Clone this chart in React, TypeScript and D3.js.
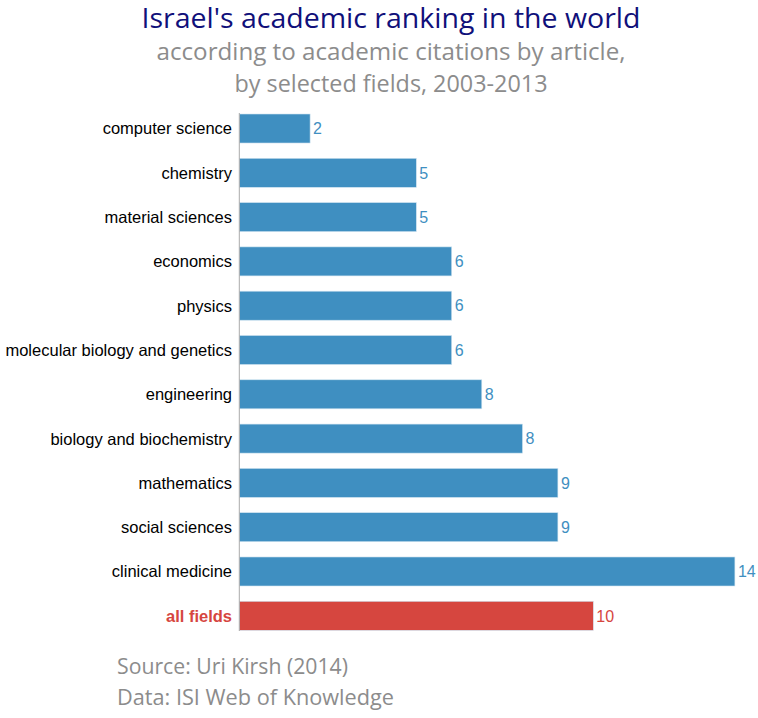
import React from "react";
import * as d3 from "d3";

const categories = [
  "computer science",
  "chemistry",
  "material sciences",
  "economics",
  "physics",
  "molecular biology and genetics",
  "engineering",
  "biology and biochemistry",
  "mathematics",
  "social sciences",
  "clinical medicine",
  "all fields",
];
// bar lengths as drawn in the reference
const barValues = [2, 5, 5, 6, 6, 6, 6.85, 8, 9, 9, 14, 10];
// printed rank labels
const rankLabels = ["2", "5", "5", "6", "6", "6", "8", "8", "9", "9", "14", "10"];
const highlight = ["all fields"];

const titleText = "Israel's academic ranking in the world";
const subtitleLines = [
  "according to academic citations by article,",
  "by selected fields, 2003-2013",
];
const footerLines = ["Source: Uri Kirsh (2014)", "Data: ISI Web of Knowledge"];

const W = 758;
const H = 718;
const BLUE = "#3f8fc1";
const RED = "#d6463f";

export default function App() {
  const x0 = 239.3;
  const x = d3.scaleLinear().domain([0, 14]).range([x0, x0 + 14 * 35.4]);
  const y = d3
    .scaleBand<string>()
    .domain(categories)
    .range([114, 630.3])
    .paddingInner(0.345)
    .paddingOuter(0);
  const bh = y.bandwidth();

  const sans = "'Liberation Sans', Arial, sans-serif";
  const humanist = "'Open Sans', Lato, sans-serif";

  return (
    <svg
      width={W}
      height={H}
      style={{ position: "absolute", left: 0, top: 0, background: "#fff" }}
    >
      <text
        x={391}
        y={28}
        textAnchor="middle"
        fontFamily={humanist}
        fontSize={26.5}
        fill="#10107a"
        textLength={499}
        lengthAdjust="spacingAndGlyphs"
      >
        {titleText}
      </text>
      {subtitleLines.map((t, i) => (
        <text
          key={t}
          x={391}
          y={60 + i * 31.5}
          textAnchor="middle"
          fontFamily={humanist}
          fontSize={23}
          fill="#8c8c8c"
          textLength={i === 0 ? 469 : 313}
          lengthAdjust="spacingAndGlyphs"
        >
          {t}
        </text>
      ))}
      {categories.map((c, i) => {
        const isHi = highlight.includes(c);
        const top = y(c) as number;
        const color = isHi ? RED : BLUE;
        return (
          <g key={c}>
            <rect
              x={x(0)}
              y={top}
              width={x(barValues[i]) - x(0)}
              height={bh}
              fill={color}
              stroke="#cfe3f0"
              strokeWidth={0.6}
            />
            <text
              x={232}
              y={top + bh / 2}
              dy="0.36em"
              textAnchor="end"
              fontFamily={sans}
              fontSize={16.5}
              fontWeight={isHi ? "bold" : "normal"}
              fill={isHi ? RED : "#000"}
            >
              {c}
            </text>
            <text
              x={x(barValues[i]) + 3}
              y={top + bh / 2}
              dy="0.36em"
              fontFamily={sans}
              fontSize={16}
              fill={color}
            >
              {rankLabels[i]}
            </text>
          </g>
        );
      })}
      <line
        x1={x(0)}
        x2={x(0)}
        y1={113}
        y2={631}
        stroke="#aaa"
        strokeWidth={1}
      />
      {footerLines.map((t, i) => (
        <text
          key={t}
          x={117}
          y={674 + i * 31}
          fontFamily={humanist}
          fontSize={21}
          fill="#8c8c8c"
          textLength={i === 0 ? 231 : 277}
          lengthAdjust="spacingAndGlyphs"
        >
          {t}
        </text>
      ))}
    </svg>
  );
}
